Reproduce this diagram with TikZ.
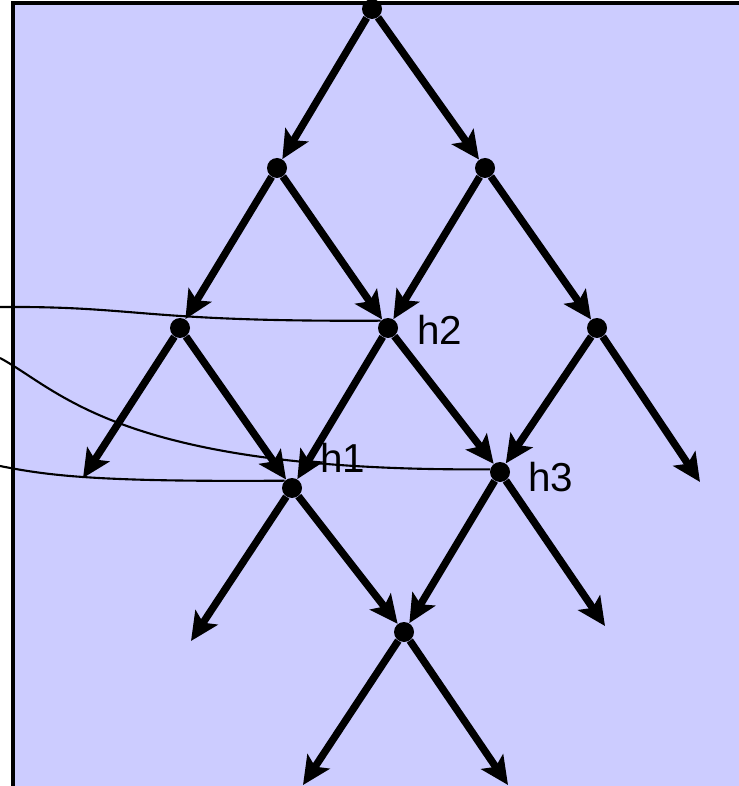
\documentclass[tikz,border=0pt]{standalone}
\usepackage{fontspec}
\setmainfont{Liberation Sans}
\usetikzlibrary{arrows.meta}
\definecolor{bgfill}{RGB}{204, 204, 255}

\begin{document}
\begin{tikzpicture}[
  x=0.02cm, y=-0.02cm,
  dot/.style={circle, fill=black, minimum size=0.4cm, inner sep=0pt},
  arr/.style={-{Stealth[length=16pt, width=15pt, inset=3.5pt]}, line width=4.2pt},
  wire/.style={line width=1.2pt},
  lbl/.style={font=\fontsize{23}{27}\selectfont, anchor=base west, inner sep=0pt},
]
\useasboundingbox (0,0) rectangle (738,786);

% Background
\draw[fill=bgfill, line width=2.2pt] (13,3) rectangle (800,850);

% Dots
\foreach \name/\x/\y in {
  n0/372/9,
  n1a/277/168, n1b/485/168,
  n2a/180/328, n2b/388/328, n2c/597/328,
  n3b/292/488, n3c/500/472,
  n4/404/632%
}{
  \node[dot] (\name) at (\x,\y) {};
}

% Loose ends
\foreach \name/\x/\y in {
  e3a/83/478, e3d/700/482,
  e4a/191/641, e4c/605/626,
  e5a/303/785, e5b/508/785,
  s1/0/307, s2/0/358, s3/0/466%
}{
  \coordinate (\name) at (\x,\y);
}

% Labels
\node[lbl] (l1) at (320,472) {h1};
\node[lbl] (l2) at (417,345) {h2};
\node[lbl] (l3) at (528,491) {h3};

% Wires
\draw[wire] (s1) .. controls (140,306) and (140,322) .. (n2b.135);
\draw[wire] (s2) .. controls (60,390) and (120,472) .. (n3c.165);
\draw[wire] (s3) .. controls (50,476) and (100,482) .. (n3b.135);

% Arrows
\foreach \a/\b in {
  n0/n1a, n0/n1b,
  n1a/n2a, n1a/n2b, n1b/n2b, n1b/n2c,
  n2a/e3a, n2a/n3b, n2b/n3b, n2b/n3c, n2c/n3c, n2c/e3d,
  n3b/e4a, n3b/n4, n3c/n4, n3c/e4c,
  n4/e5a, n4/e5b%
}{
  \draw[arr] (\a) -- (\b);
}

\end{tikzpicture}
\end{document}
